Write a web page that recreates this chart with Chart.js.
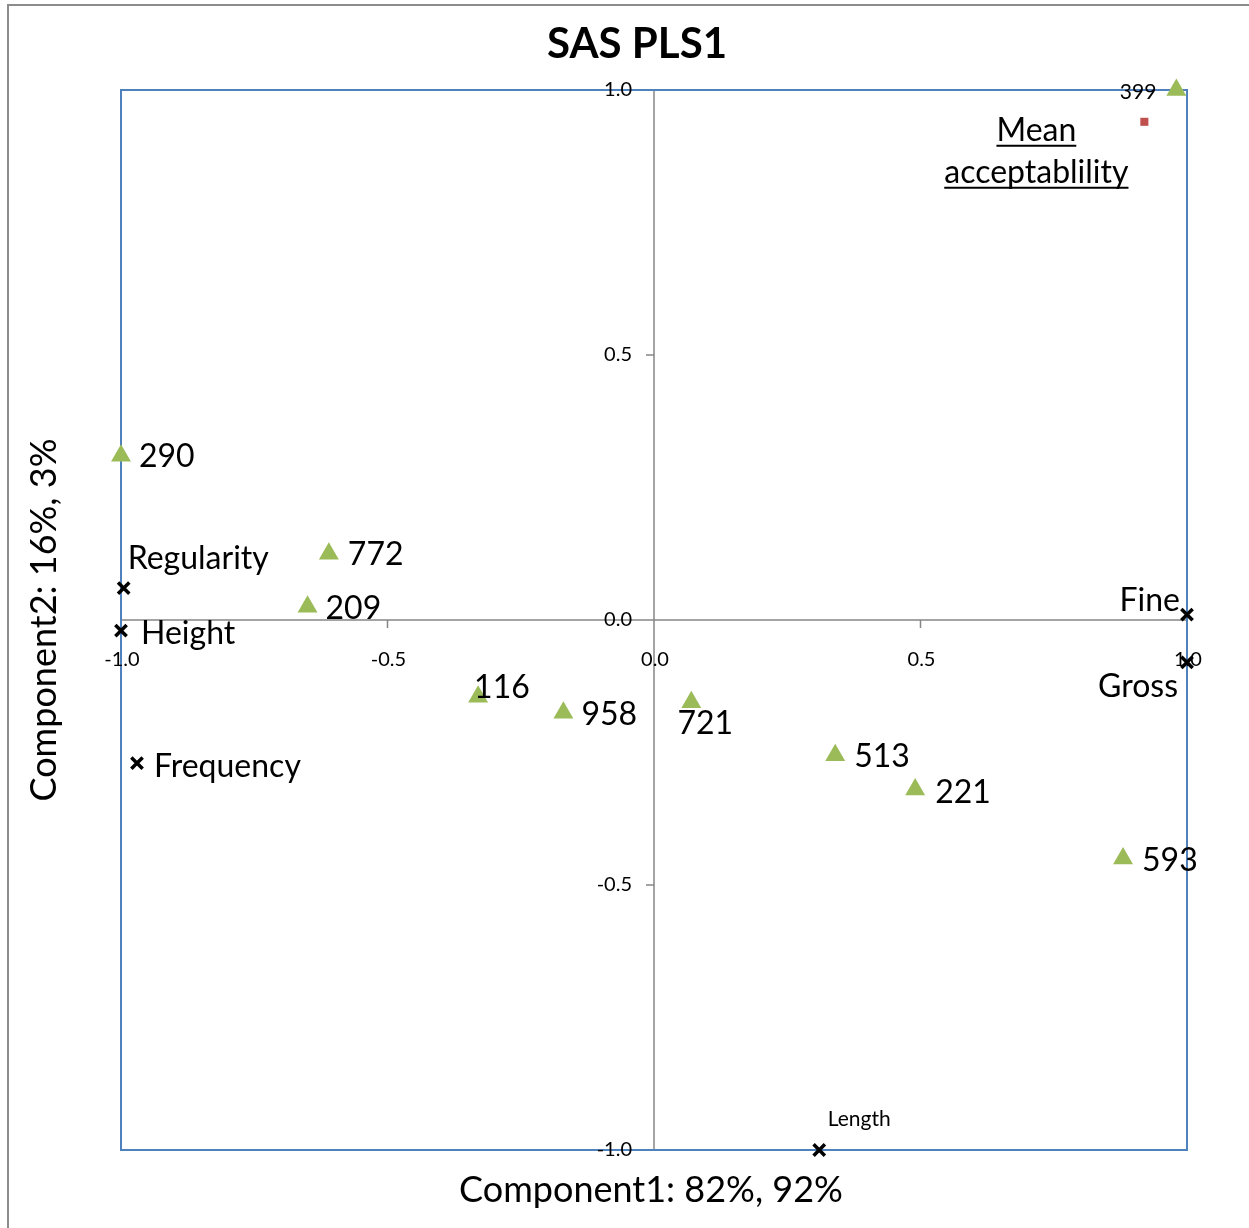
<!DOCTYPE html>
<html>
<head>
<meta charset="utf-8">
<script src="https://cdn.jsdelivr.net/npm/chart.js@4.4.1/dist/chart.umd.min.js"></script>
<style>
  html, body { margin: 0; padding: 0; background: #fff; }
  #plsChart { display: block; }
</style>
</head>
<body>
<canvas id="plsChart" width="1249" height="1228"></canvas>
<script>
// samples (green triangles)
const sampleNames = ["399", "290", "772", "209", "116", "958", "721", "513", "221", "593"];
const sampleX = [0.98, -1.0, -0.61, -0.65, -0.33, -0.17, 0.07, 0.34, 0.49, 0.88];
const sampleY = [1.0, 0.31, 0.125, 0.025, -0.145, -0.175, -0.155, -0.255, -0.32, -0.45];

// attributes (black crosses)
const attrNames = ["Regularity", "Height", "Frequency", "Fine", "Gross", "Length"];
const attrX = [-0.995, -1.0, -0.97, 1.0, 1.0, 0.31];
const attrY = [0.06, -0.02, -0.27, 0.01, -0.08, -1.0];

// response (red square)
const meanNames = ["Mean", "acceptablility"];
const meanX = [0.92];
const meanY = [0.94];

const tickValues = [-1.0, -0.5, 0.0, 0.5, 1.0];

const FONT = "Lato, 'Liberation Sans', sans-serif";

// where each label sits relative to its marker
const labelPlace = {
  "399": { dx: -20, dy: 2, align: "right", size: 21 },
  "290": { dx: 18, dy: 1, align: "left" },
  "772": { dx: 19, dy: 1, align: "left" },
  "209": { dx: 18, dy: 2, align: "left" },
  "116": { dx: -4, dy: -9, align: "left" },
  "958": { dx: 18, dy: 2, align: "left" },
  "721": { dx: 14, dy: 22, align: "center" },
  "513": { dx: 19, dy: 2, align: "left" },
  "221": { dx: 20, dy: 3, align: "left" },
  "593": { dx: 19, dy: 2, align: "left" },
  Regularity: { dx: 4, dy: -30, align: "left" },
  Height: { dx: 20, dy: 3, align: "left" },
  Frequency: { dx: 17, dy: 4, align: "left" },
  Fine: { dx: -7, dy: -14, align: "right" },
  Gross: { dx: -9, dy: 24, align: "right" },
  Length: { dx: 40, dy: -31, align: "center", size: 21 },
};

function toPoints(xs, ys) {
  return xs.map((x, i) => ({ x: x, y: ys[i] }));
}

const frame = {
  id: "frame",
  beforeDatasetsDraw(chart) {
    const ctx = chart.ctx;
    const area = chart.chartArea;
    const xs = chart.scales.x;
    const ys = chart.scales.y;
    const x0 = xs.getPixelForValue(0);
    const y0 = ys.getPixelForValue(0);
    ctx.save();

    // outer chart border (only left/top visible)
    ctx.strokeStyle = "#8c8c8c";
    ctx.lineWidth = 2;
    ctx.beginPath();
    ctx.moveTo(8, chart.height);
    ctx.lineTo(8, 5);
    ctx.lineTo(chart.width, 5);
    ctx.stroke();

    // axes crossing at zero
    ctx.strokeStyle = "#868686";
    ctx.lineWidth = 1.5;
    ctx.beginPath();
    ctx.moveTo(area.left, y0);
    ctx.lineTo(area.right, y0);
    ctx.moveTo(x0, area.top);
    ctx.lineTo(x0, area.bottom);
    tickValues.forEach((v) => {
      const py = ys.getPixelForValue(v);
      ctx.moveTo(x0 - 8, py);
      ctx.lineTo(x0, py);
      const px = xs.getPixelForValue(v);
      ctx.moveTo(px, y0);
      ctx.lineTo(px, y0 + 8);
    });
    ctx.stroke();

    // plot area border
    ctx.strokeStyle = "#4f81bd";
    ctx.lineWidth = 2;
    ctx.strokeRect(area.left, area.top, area.right - area.left, area.bottom - area.top);

    // tick labels
    ctx.fillStyle = "#000";
    ctx.font = "20px " + FONT;
    ctx.textBaseline = "middle";
    tickValues.forEach((v) => {
      ctx.textAlign = "right";
      ctx.fillText(v.toFixed(1), x0 - 22, ys.getPixelForValue(v));
      ctx.textAlign = "center";
      ctx.fillText(v.toFixed(1), xs.getPixelForValue(v) + 1, y0 + 40);
    });
    ctx.restore();
  },
  afterDatasetsDraw(chart) {
    const ctx = chart.ctx;
    const xs = chart.scales.x;
    const ys = chart.scales.y;
    ctx.save();
    ctx.fillStyle = "#000";
    ctx.textBaseline = "middle";

    const drawLabel = (name, vx, vy) => {
      const p = labelPlace[name];
      ctx.font = (p.size || 32) + "px " + FONT;
      ctx.textAlign = p.align;
      ctx.fillText(name, xs.getPixelForValue(vx) + p.dx, ys.getPixelForValue(vy) + p.dy);
    };
    sampleNames.forEach((n, i) => drawLabel(n, sampleX[i], sampleY[i]));
    attrNames.forEach((n, i) => drawLabel(n, attrX[i], attrY[i]));

    // underlined response label
    ctx.font = "32px " + FONT;
    ctx.textAlign = "center";
    ctx.strokeStyle = "#000";
    ctx.lineWidth = 2;
    const mx = xs.getPixelForValue(meanX[0]) - 108;
    const my = ys.getPixelForValue(meanY[0]);
    meanNames.forEach((line, i) => {
      const ty = my + 9 + i * 42;
      ctx.fillText(line, mx, ty);
      const w = ctx.measureText(line).width;
      ctx.beginPath();
      ctx.moveTo(mx - w / 2, ty + 15);
      ctx.lineTo(mx + w / 2, ty + 15);
      ctx.stroke();
    });

    // titles
    ctx.font = "bold 42px " + FONT;
    ctx.fillText("SAS PLS1", 637, 44);
    ctx.font = "36px " + FONT;
    ctx.fillText("Component1: 82%, 92%", 651, 1190);
    ctx.translate(44, 620);
    ctx.rotate(-Math.PI / 2);
    ctx.fillText("Component2: 16%, 3%", 0, 0);
    ctx.restore();
  },
};

new Chart(document.getElementById("plsChart"), {
  type: "scatter",
  data: {
    datasets: [
      {
        label: "Samples",
        data: toPoints(sampleX, sampleY),
        pointStyle: "triangle",
        pointRadius: 11.5,
        pointHoverRadius: 11.5,
        backgroundColor: "#9bbb59",
        borderColor: "#9bbb59",
        borderWidth: 0,
        clip: false,
      },
      {
        label: "Attributes",
        data: toPoints(attrX, attrY),
        pointStyle: "crossRot",
        pointRadius: 8,
        pointHoverRadius: 8,
        borderColor: "#000",
        borderWidth: 3.5,
        clip: false,
      },
      {
        label: "Mean acceptablility",
        data: toPoints(meanX, meanY),
        pointStyle: "rect",
        pointRadius: 5.7,
        pointHoverRadius: 5.7,
        backgroundColor: "#c0504d",
        borderColor: "#c0504d",
        borderWidth: 0,
        clip: false,
      },
    ],
  },
  options: {
    responsive: false,
    animation: false,
    devicePixelRatio: 1,
    layout: { padding: { left: 121, right: 62, top: 90, bottom: 78 } },
    plugins: { legend: { display: false }, tooltip: { enabled: false } },
    scales: {
      x: { type: "linear", min: -1, max: 1, display: false },
      y: { type: "linear", min: -1, max: 1, display: false },
    },
  },
  plugins: [frame],
});
</script>
</body>
</html>
